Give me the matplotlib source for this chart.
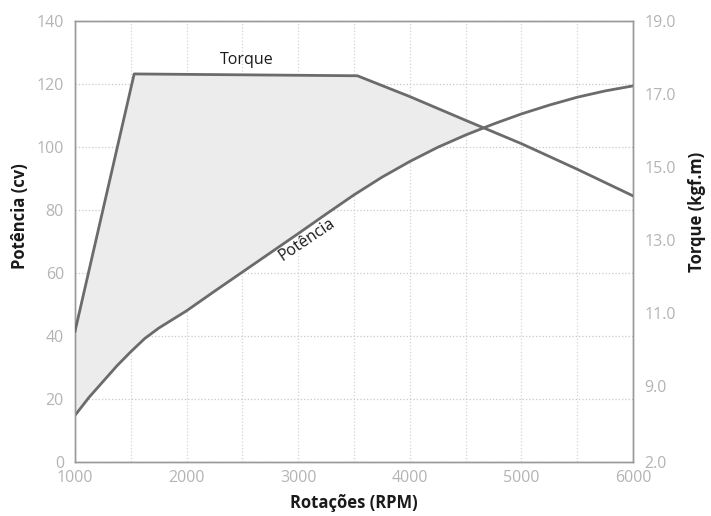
import matplotlib
matplotlib.use('Agg')
import matplotlib.pyplot as plt
import numpy as np

plt.rcParams['font.family'] = ['Open Sans', 'DejaVu Sans']

# potencia (cv)
rpm_pot = [1000, 1125, 1250, 1375, 1500, 1625, 1750, 2000, 2250, 2500, 2750, 3000,
           3250, 3500, 3750, 4000, 4250, 4500, 4750, 5000, 5250, 5500, 5750, 6000]
potencia = [14.8, 20.5, 25.5, 30.5, 35.0, 39.2, 42.5, 48.0, 54.2, 60.3, 66.4, 72.5,
            78.7, 84.8, 90.4, 95.4, 99.9, 103.8, 107.3, 110.5, 113.3, 115.8, 117.8, 119.4]

# torque (kgf.m)
rpm_tor = [1000, 1530, 3530, 4000, 4500, 5000, 5500, 6000]
torque = [10.5, 17.55, 17.5, 16.93, 16.28, 15.64, 14.94, 14.21]

x_ticks = [1000, 2000, 3000, 4000, 5000, 6000]
left_ticks = [0, 20, 40, 60, 80, 100, 120, 140]
right_ticks = [9.0, 11.0, 13.0, 15.0, 17.0, 19.0]

# eixo direito: 19.0 no topo, 2 unidades = 23.17 cv; base mostrada como "2.0"
tor_top = 19.0
cv_per_kgf = 11.59
tor_bottom = tor_top - 140 / cv_per_kgf

fig = plt.figure(figsize=(7.11, 5.16), dpi=100)
ax = fig.add_axes([0.1055, 0.1047, 0.7848, 0.8546])
ax2 = ax.twinx()

ax.set_xlim(1000, 6000)
ax.set_ylim(0, 140)
ax2.set_ylim(tor_bottom, tor_top)

# sombra entre torque e potencia
grid_rpm = np.linspace(1000, 6000, 1001)
tor_i = np.interp(grid_rpm, rpm_tor, torque)
tor_cv = 140 - (tor_top - tor_i) * cv_per_kgf
pot_i = np.interp(grid_rpm, rpm_pot, potencia)
ax.fill_between(grid_rpm, pot_i, tor_cv, where=tor_cv >= pot_i,
                interpolate=True, color='#ececec', lw=0, zorder=1)

line_c = '#6b6b6b'
ax.plot(rpm_pot, potencia, color=line_c, lw=2, zorder=3)
ax2.plot(rpm_tor, torque, color=line_c, lw=2, zorder=3)

ax.set_xticks(x_ticks)
ax.set_xticks(np.arange(1500, 6000, 1000), minor=True)
ax.set_yticks(left_ticks)
ax.grid(True, which='both', axis='x', color='#d4d4d4', ls=':', lw=0.9)
ax.grid(True, which='major', axis='y', color='#c8c8c8', ls=':', lw=0.9)
ax.set_axisbelow(True)

ax2.set_yticks([tor_bottom] + right_ticks)
ax2.set_yticklabels(['2.0'] + ['%.1f' % t for t in right_ticks])

tick_c = '#b4b4b4'
for a in (ax, ax2):
    a.tick_params(which='both', length=0, labelsize=11.5, labelcolor=tick_c)
    for s in a.spines.values():
        s.set_color('#9a9a9a')
        s.set_linewidth(1.0)
ax.tick_params(axis='y', pad=8)
ax.tick_params(axis='x', pad=6)
ax2.tick_params(axis='y', pad=8)

lab = dict(fontsize=12, fontweight='bold', color='#1a1a1a', ha='center', va='center')
ax.set_xlabel('Rotações (RPM)', **lab)
ax.set_ylabel('Potência (cv)', **lab)
ax2.set_ylabel('Torque (kgf.m)', rotation=90, **lab)
ax.xaxis.set_label_coords(0.5, -0.093)
ax.yaxis.set_label_coords(-0.099, 0.558)
ax2.yaxis.set_label_coords(1.115, 0.567)

ax.text(2541, 127.5, 'Torque', fontsize=11.5, color='#1a1a1a', ha='center', va='center')
ax.text(3076, 70.5, 'Potência', fontsize=11.5, color='#1a1a1a', ha='center', va='center',
        rotation=34, rotation_mode='anchor')

fig.savefig('out.png', dpi=100)
